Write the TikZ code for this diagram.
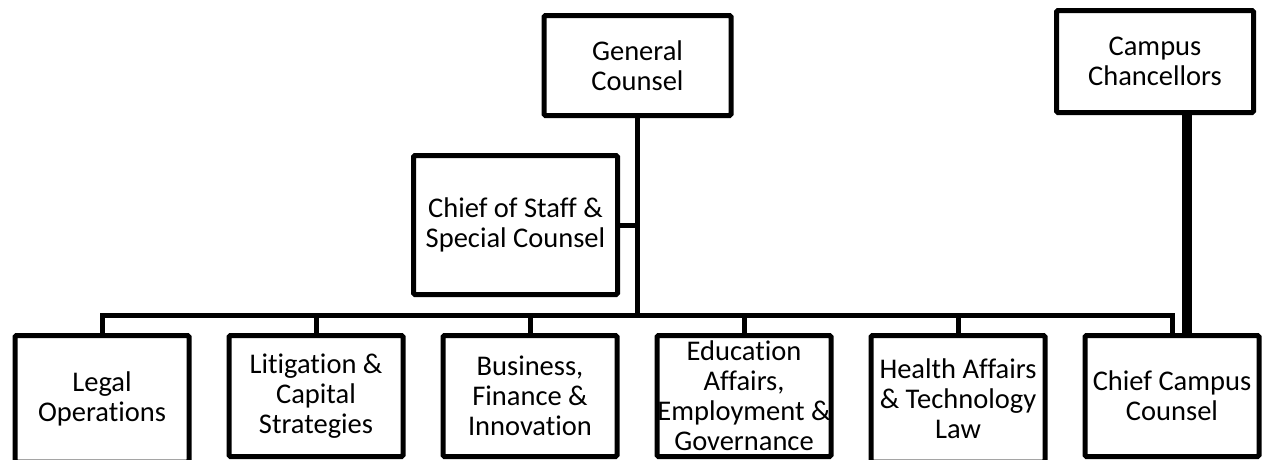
\documentclass[tikz,border=0pt]{standalone}
\usepackage{fontspec}
\setmainfont{Carlito}[Ligatures=NoCommon]
\begin{document}
\begin{tikzpicture}[x=1pt,y=-1pt,
  box/.style={draw=black, line width=5pt, rounded corners=1.5pt, fill=white,
    align=center, inner sep=0pt, font=\fontsize{28.5}{30}\selectfont},
  unit/.style={box, minimum width=174pt, minimum height=121pt},
  openunit/.style={box, minimum width=174pt, minimum height=126.5pt},
  conn/.style={draw=black, line width=5pt},
  heavy/.style={draw=black, line width=10pt}]
\clip (0,0) rectangle (1262,459);
\fill[white] (0,0) rectangle (1262,459);

% top level
\node[box, minimum width=187pt, minimum height=100pt] (gc) at (637.5,65.5) {General\\Counsel};
\node[box, minimum width=197pt, minimum height=102pt] (cc) at (1155,61.5) {Campus\\Chancellors};
\node[box, minimum width=204pt, minimum height=139pt] (cos) at (515.5,225) {Chief of Staff \&\\Special Counsel};

% offices
\node[openunit] (legal) at (102,398.75) {Legal\\Operations};
\node[unit] (lit) at (316,396) {Litigation \&\\Capital\\Strategies};
\node[unit] (bfi) at (530,396) {Business,\\Finance \&\\Innovation};
\node[unit] (edu) at (744,396) {Education\\Affairs,\\Employment \&\\Governance};
\node[openunit] (hat) at (958,398.75) {Health Affairs\\\& Technology\\Law};
\node[unit] (ccc) at (1172,396) {Chief Campus\\Counsel};

% reporting lines
\coordinate (bus) at (0,315);
\coordinate (link) at (1187,0);
\draw[conn] (gc.south) -- (gc.south |- bus);
\draw[conn] (cos.east) -- (cos.east -| gc.south);
\draw[conn] (legal.north) |- (ccc.north |- bus) -- (ccc.north);
\foreach \n in {lit,bfi,edu,hat}
  \draw[conn] (\n.north) -- (\n.north |- bus);
\draw[heavy] (cc.south -| link) -- (ccc.north -| link);
\end{tikzpicture}
\end{document}
